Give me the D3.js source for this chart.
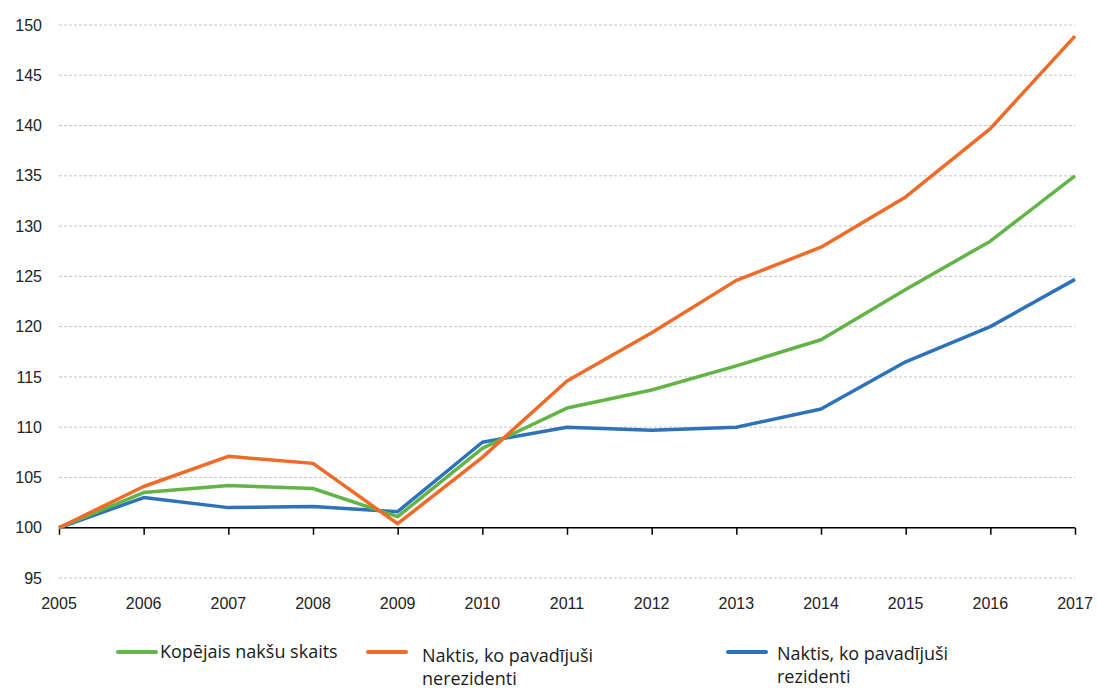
<!DOCTYPE html>
<html><head><meta charset="utf-8">
<script src="https://cdn.jsdelivr.net/npm/d3@7"></script>
<style>body{margin:0;background:#fff}</style></head>
<body><svg id="c" width="1097" height="691"></svg>
<script>
const years = [2005,2006,2007,2008,2009,2010,2011,2012,2013,2014,2015,2016,2017];
const totalNights = [100,103.5,104.2,103.9,101.1,107.9,111.9,113.7,116.1,118.7,123.7,128.5,135.0];
const nonResidents = [100,104.1,107.1,106.4,100.4,107.0,114.6,119.4,124.6,127.9,132.9,139.7,148.9];
const residents = [100,103.0,102.0,102.1,101.6,108.5,110.0,109.7,110.0,111.8,116.5,120.0,124.7];
const yTicks = [95,100,105,110,115,120,125,130,135,140,145,150];
const seriesNames = ["Kopējais nakšu skaits", ["Naktis, ko pavadījuši","nerezidenti"], ["Naktis, ko pavadījuši","rezidenti"]];

const svg = d3.select("#c");
const x = d3.scalePoint().domain(years).range([59,1075]);
const y = d3.scaleLinear().domain([95,150]).range([578,25]);

// grid
svg.append("g").selectAll("line").data(yTicks.filter(v=>v!==100)).join("line")
  .attr("x1",59).attr("x2",1075).attr("y1",d=>y(d)).attr("y2",d=>y(d))
  .attr("stroke","#c4c4c4").attr("stroke-dasharray","3,2").attr("stroke-width",1);

// y labels
const yAxis = d3.axisLeft(y).tickValues(yTicks).tickSize(0).tickPadding(0);
const ga = svg.append("g").attr("transform","translate(42,0)").call(yAxis);
ga.select(".domain").remove();
ga.selectAll("text").attr("font-family","Liberation Sans, Arial, sans-serif").attr("font-size",16).attr("fill","#222");

// x axis at 100
const xAxis = d3.axisBottom(x).tickSize(7).tickFormat("");
const gx = svg.append("g").attr("transform",`translate(0,${y(100)})`).call(xAxis);
gx.select(".domain").attr("d",`M59,0H1075`).attr("stroke","#000").attr("stroke-width",1.5);
gx.selectAll(".tick line").attr("stroke","#000").attr("stroke-width",1.5);

svg.append("g").selectAll("text").data(years).join("text")
  .attr("x",d=>x(d)).attr("y",609).attr("text-anchor","middle")
  .attr("font-family","Liberation Sans, Arial, sans-serif").attr("font-size",16).attr("fill","#222")
  .text(d=>d);

const colors = ["#62b447","#f06a28","#2e72b9"];
const line = d3.line().x((d,i)=>x(years[i])).y(d=>y(d));
[residents, totalNights, nonResidents].forEach((s,k)=>{
  const c = [colors[2],colors[0],colors[1]][k];
  svg.append("path").attr("d",line(s)).attr("fill","none").attr("stroke",c)
    .attr("stroke-width",3.5).attr("stroke-linejoin","round");
});

// legend
const leg = [
  {lx:118, ly:652, tx:160, ty:[658]},
  {lx:368, ly:652, tx:422, ty:[662,685]},
  {lx:728, ly:652, tx:777, ty:[660,683]}
];
leg.forEach((l,i)=>{
  svg.append("line").attr("x1",l.lx).attr("x2",l.lx+38).attr("y1",l.ly).attr("y2",l.ly)
    .attr("stroke",colors[i]).attr("stroke-width",4).attr("stroke-linecap","round");
  const lines = Array.isArray(seriesNames[i]) ? seriesNames[i] : [seriesNames[i]];
  lines.forEach((t,j)=>{
    svg.append("text").attr("x",l.tx).attr("y",l.ty[j]).attr("font-family","Open Sans, Noto Sans, sans-serif")
      .attr("font-size",18).attr("fill","#1a1a1a").text(t);
  });
});
</script></body></html>
